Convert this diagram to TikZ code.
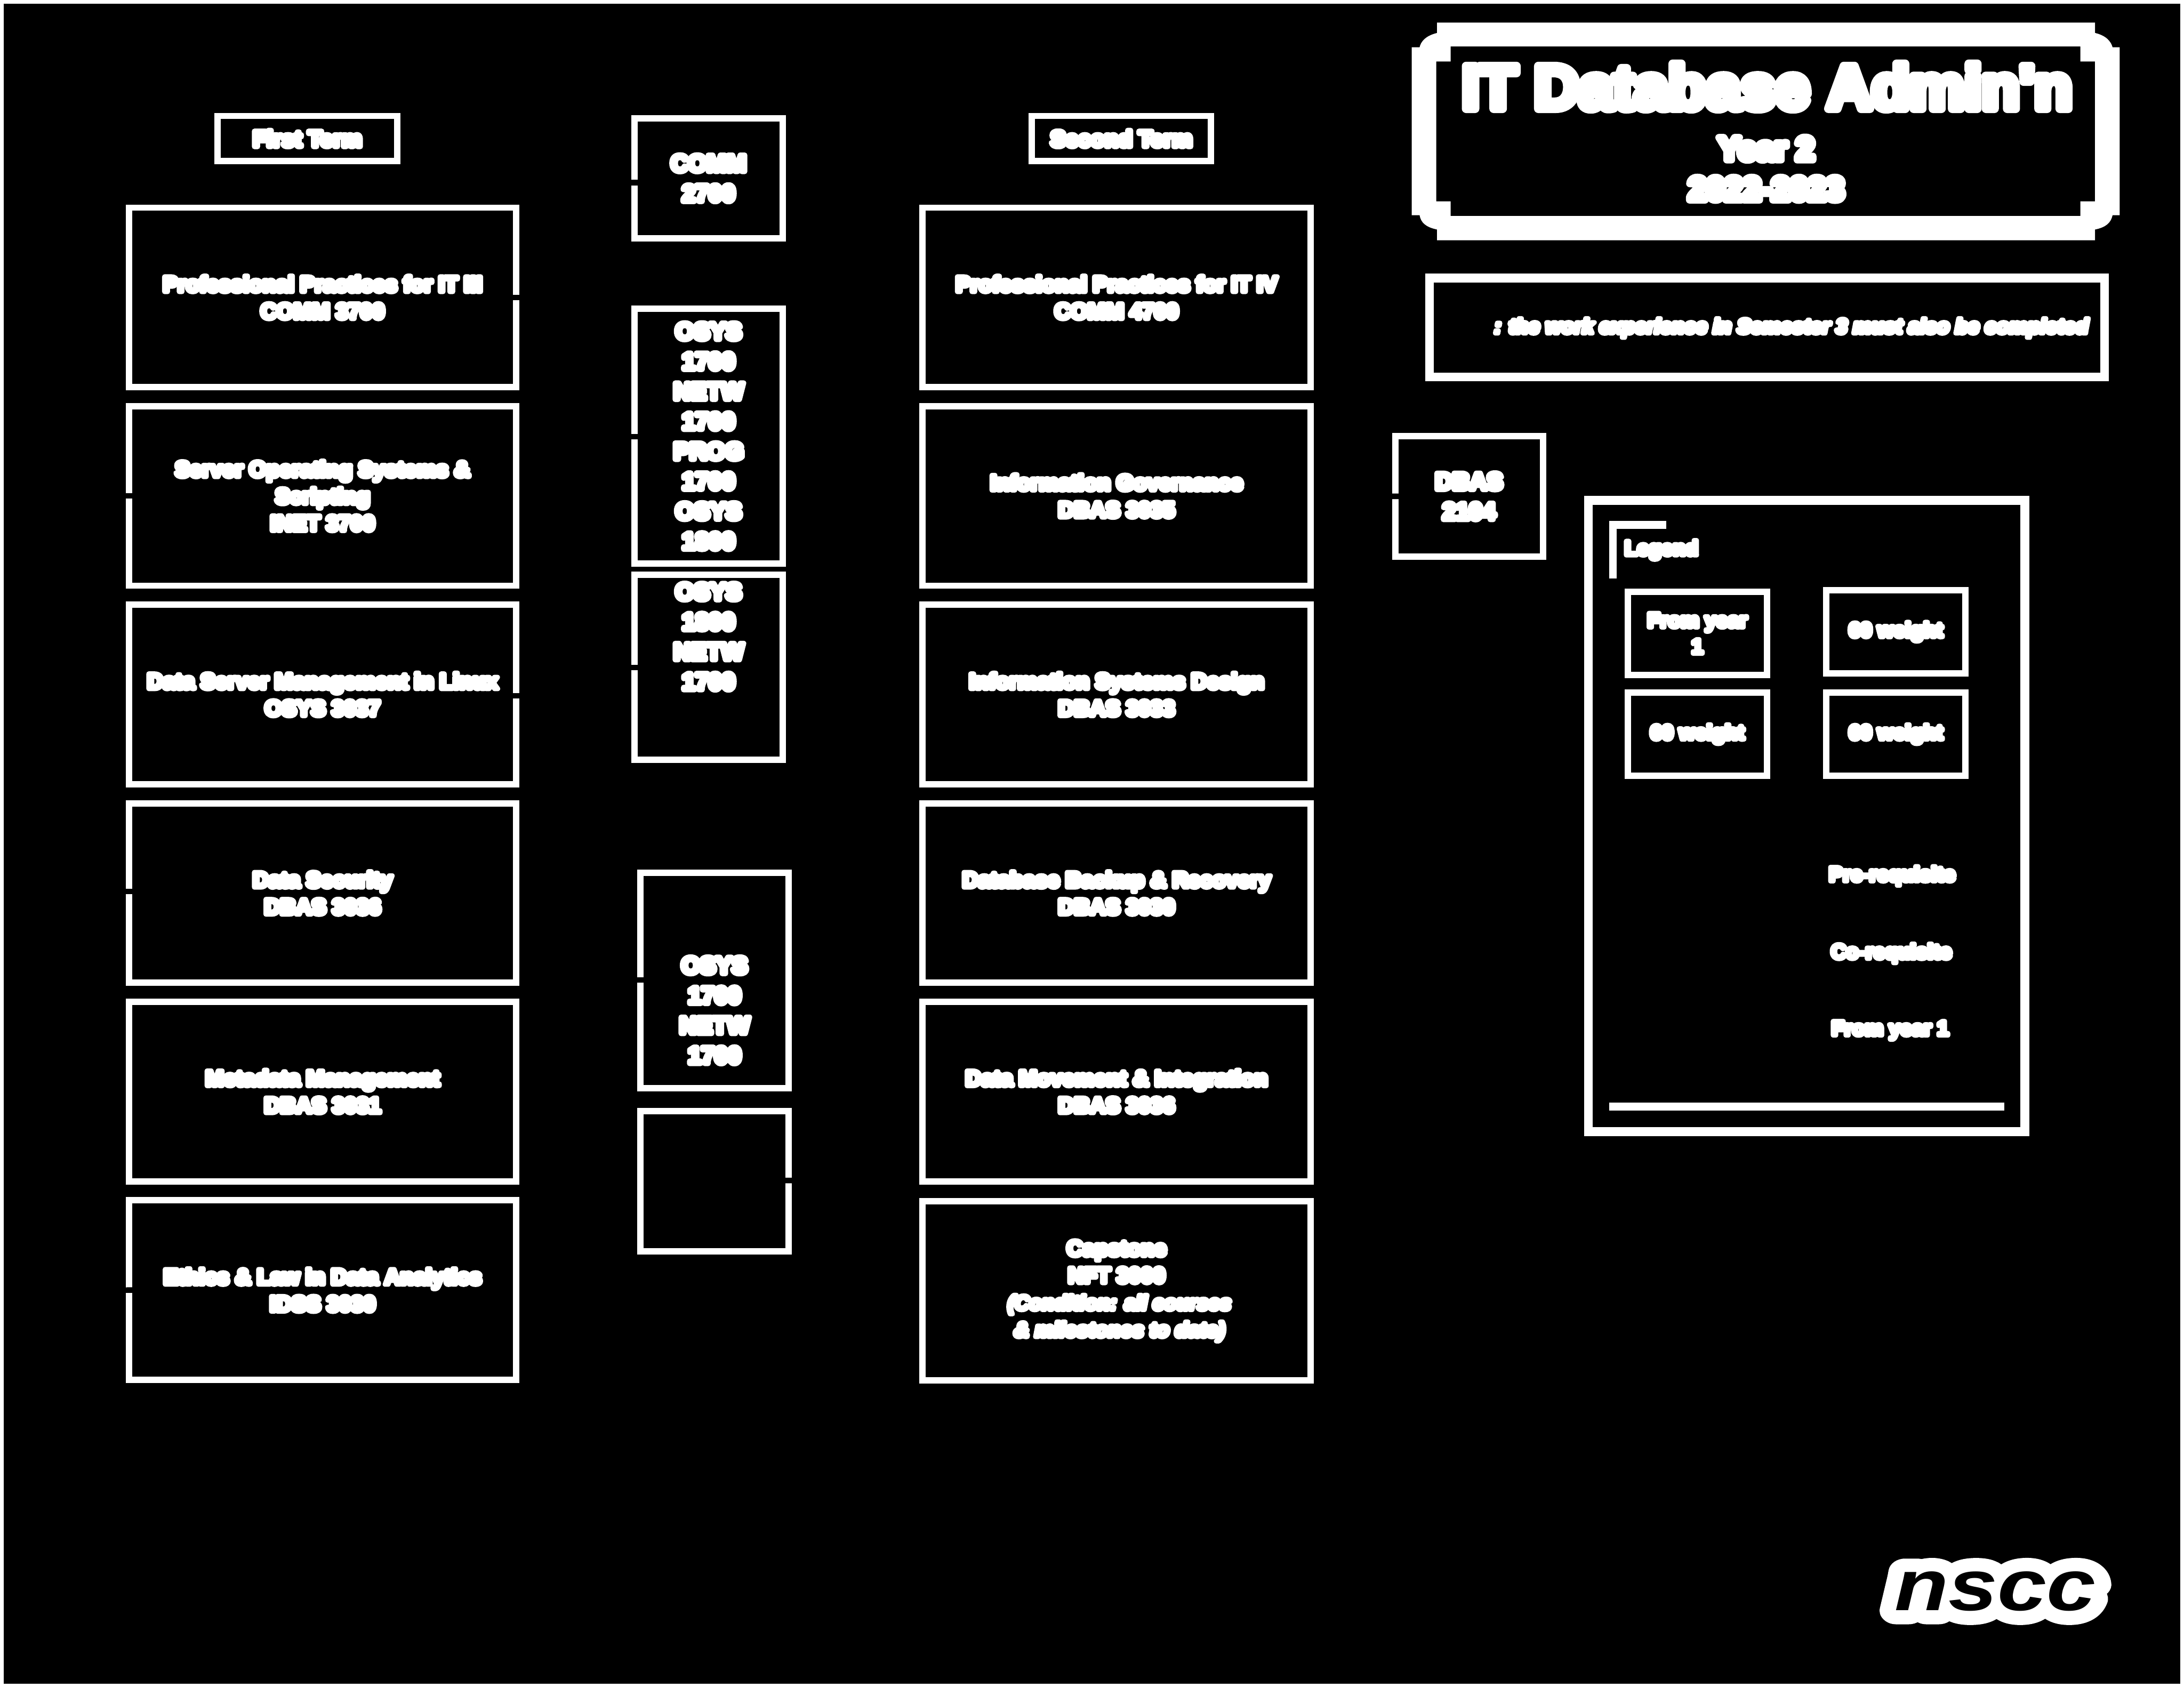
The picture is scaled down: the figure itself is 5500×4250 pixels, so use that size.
\documentclass[tikz,border=0pt]{standalone}
\usepackage{fontspec}
\setmainfont{Liberation Sans}
\newfontfamily\fatfam{Liberation Sans Bold}[FakeBold=22]
\newfontfamily\fatitfam{Liberation Sans Bold Italic}[FakeBold=22]
\newfontfamily\midfam{Liberation Sans Bold}[FakeBold=14]
\newfontfamily\plainit{Liberation Sans Bold Italic}
\newfontfamily\fatlogofam{Liberation Sans Bold Italic}[FakeBold=38]
\newcommand{\rj}{\special{pdf:code 1 j}}
\newcommand{\fat}{\fatfam\rj}
\newcommand{\fatit}{\fatitfam\rj}
\newcommand{\fatmid}{\midfam\rj}
\newcommand{\fatlogo}{\fatlogofam\rj}
\newcommand{\fs}[2]{\fontsize{#1}{#2}\selectfont}
\tikzset{
  x=0.1pt, y=-0.1pt,
  box/.style={draw=white, line width=1.6pt, line join=miter, outer sep=0pt, inner sep=0pt, text=white, align=center, font=\fat\fs{5.5}{6.8}},
  course/.style={box, minimum width=97.5pt, minimum height=45.2pt},
  prereq/.style={box, minimum width=37.3pt, font=\fat\fs{6.0}{7.55}},
  legbox/.style={box, minimum width=35.1pt, minimum height=21pt, font=\fat\fs{5.2}{6.6}},
  term/.style={box, minimum width=45.2pt, minimum height=11.4pt, font=\fat\fs{5.7}{6}},
  label/.style={text=white, inner sep=0pt, align=center, font=\fat\fs{5.2}{6}},
  conn/.style={draw=black, line width=1.4pt, shorten <=-1.1pt, shorten >=-1.1pt},
}
\begin{document}
\begin{tikzpicture}
\useasboundingbox (0,0) rectangle (5500,4250);
\fill[black] (0,0) rectangle (5500,4250);
\draw[white, line width=1.8pt] (0,0) rectangle (5500,4250);

% title plaque
\fill[white, even odd rule]
  (3619,57) -- (5276,57) -- (5276,83) .. controls (5305,90) and (5316,105) .. (5320,119) -- (5338,119) -- (5338,542)
  -- (5320,542) .. controls (5316,560) and (5305,572) .. (5276,578) -- (5276,605) -- (3619,605) -- (3619,578)
  .. controls (3590,572) and (3578,560) .. (3575,542) -- (3555,542) -- (3555,119) -- (3575,119)
  .. controls (3578,105) and (3590,90) .. (3619,83) -- cycle
  (3653,117) -- (5239,117) -- (5239,155) -- (5276,155) -- (5276,507) -- (5239,507) -- (5239,544) -- (3653,544)
  -- (3653,507) -- (3617,507) -- (3617,155) -- (3653,155) -- cycle;
\node[label, font=\fatmid\fs{15.6}{20}] (title) at (4450,218) {IT Database Admin'n};
\node[label, font=\fat\fs{8.2}{10.1}] (sub) at (4448,425) {Year 2\\2022-2023};

\node[draw=white, line width=2.2pt, minimum width=170pt, minimum height=24.9pt, outer sep=0pt, inner sep=0pt] (note) at (4450,824.5) {};
\node[label, font=\fatit\fs{5.2}{6}] (notetext) at (4511,826) {: the work experience in Semester 3 must also be completed};

% terms
\node[term] (first) at (774,349) {First Term};
\node[term] (second) at (2824,349) {Second Term};

% first term
\node[course] (a1) at (812.5,749) {Professional Practices for IT III\\COMM 3700};
\node[course] (a2) at (812.5,1249) {Server Operating Systems \&\\Scripting\\INET 3700};
\node[course] (a3) at (812.5,1749) {Data Server Management in Linux\\OSYS 3037};
\node[course] (a4) at (812.5,2249) {Data Security\\DBAS 3036};
\node[course] (a5) at (812.5,2749) {Metadata Management\\DBAS 3031};
\node[course] (a6) at (812.5,3249) {Ethics \& Law in Data Analytics\\IDSS 3030};

% second term
\node[course, minimum width=97.8pt] (b1) at (2812,749) {Professional Practices for IT IV\\COMM 4700};
\node[course, minimum width=97.8pt] (b2) at (2812,1249) {Information Governance\\DBAS 3035};
\node[course, minimum width=97.8pt] (b3) at (2812,1749) {Information Systems Design\\DBAS 3033};
\node[course, minimum width=97.8pt] (b4) at (2812,2249) {Database Backup \& Recovery\\DBAS 3030};
\node[course, minimum width=97.8pt] (b5) at (2812,2749) {Data Movement \& Integration\\DBAS 3036};
\node[course, minimum width=97.8pt] (b6) at (2812,3251) {Capstone\\NFT 3000\\{\fatit\fs{5.15}{6.8} (Condition: all courses}\\{\fatit\fs{5.25}{6.8} \& milestones to date)}};

% prerequisites
\node[prereq, minimum height=30.2pt] (p1) at (1784.5,449) {COMM\\2700};
\node[prereq, minimum height=64.1pt] (p2) at (1784.5,1098.5) {OSYS\\1700\\NETW\\1700\\PROG\\1700\\OSYS\\1800};
\node[prereq, minimum height=46.6pt] (p3) at (1784.5,1681) {OSYS\\1800\\NETW\\1700\\[8.05pt]\mbox{}};
\node[prereq, minimum height=54.3pt] (p4) at (1799.5,2469.5) {\mbox{}\\[11.65pt]OSYS\\1700\\NETW\\1700};
\node[prereq, minimum height=35.3pt] (p5) at (1799.5,2974.5) {};
\node[prereq, minimum height=30.3pt, minimum width=37.2pt] (p6) at (3699.5,1250) {DBAS\\2104};

% legend
\draw[white, line width=2.2pt] (4000,1260) rectangle (5099,2850);
\draw[white, line width=1.9pt] (4062,1457) -- (4062,1322) -- (4196,1322);
\draw[white, line width=2pt] (4053,2787) -- (5047,2787);
\node[label] (leg) at (4184,1385) {Legend};
\node[legbox] (l1) at (4274.5,1595) {From year\\1};
\node[legbox] (l2) at (4774.5,1591) {60 weight};
\node[legbox] (l3) at (4274.5,1849) {60 weight};
\node[legbox] (l4) at (4774.5,1849) {60 weight};
\node[label] (l5) at (4765,2206) {Pre-requisite};
\node[label] (l6) at (4763,2401) {Co-requisite};
\node[label] (l7) at (4760,2595) {From year 1};

% logo
\node[text=white, inner sep=0pt, font=\fatlogo\fs{18.2}{20}] (logoa) at (5025,4008) {\scalebox{1.22}[1]{nscc}};
\node[text=black, inner sep=0pt, font=\plainit\fs{18.2}{20}] (logob) at (5025,4008) {\scalebox{1.22}[1]{nscc}};

% connectors (black)
\draw[conn] (a1.east |- 0,749) -- (1450,749) -- (1450,460) -- (p1.west |- 0,460);
\draw[conn] (p2.west |- 0,1100) -- (1450,1100) -- (1450,999) -- (250,999) -- (250,1249) -- (a2.west);
\draw[conn] (a3.east |- 0,1752) -- (1450,1752) -- (1450,1681) -- (p3.west);
\draw[conn] (p4.west |- 0,2468) -- (1450,2468) -- (1450,2499) -- (250,2499) -- (250,2245) -- (a4.west |- 0,2245);
\draw[conn] (p5.east |- 0,2973) -- (2150,2973) -- (2150,3530) -- (250,3530) -- (250,3250) -- (a6.west);
\draw[conn, shorten >=0.8pt] (p6.west) -- (3400,1250) -- (b2.east);
\end{tikzpicture}
\end{document}
